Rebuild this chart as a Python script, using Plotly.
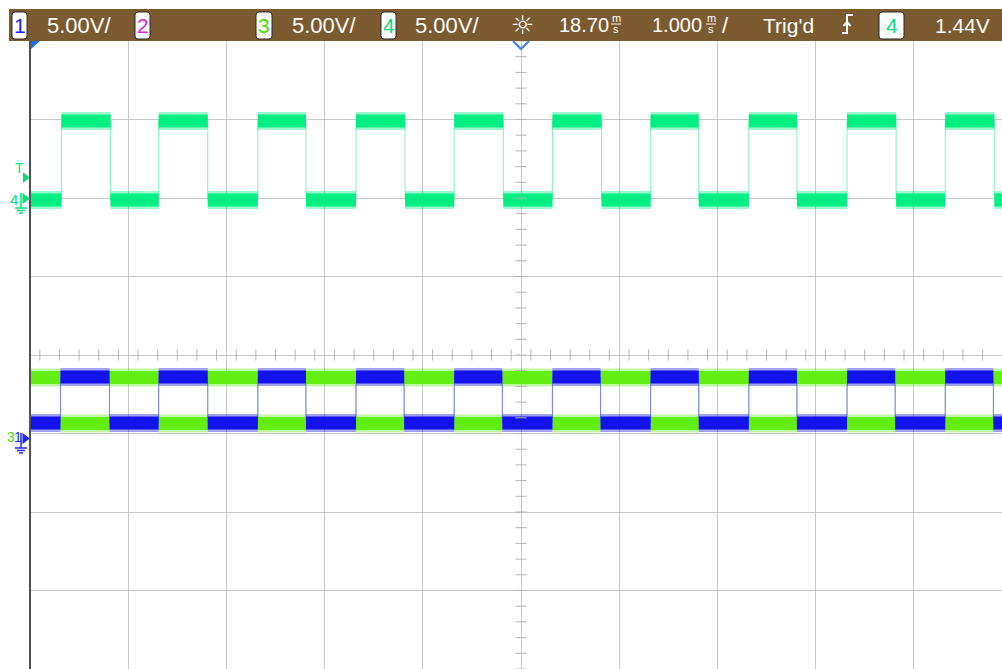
import numpy as np
import plotly.graph_objects as go

t_start, t_end = 13.70, 23.598          # ms, visible window (centre 18.70 ms, 1 ms/div)
t_center = 18.70
volts_per_div = 5.0

# channel 4 (spring green) edges, ms
ch4_rise = [14.02, 15.01, 16.02, 17.02, 18.02, 19.02, 20.02, 21.02, 22.02, 23.02]
ch4_fall = [14.52, 15.51, 16.51, 17.52, 18.52, 19.52, 20.51, 21.51, 22.52, 23.52]
ch4_low, ch4_high = -0.12, 4.90          # V
ch4_offset_div = 2.0

# channel 1 (blue) edges, ms
ch1_rise = [14.01, 15.01, 16.02, 17.02, 18.02, 19.02, 20.02, 21.02, 22.02, 23.02]
ch1_fall = [14.51, 15.51, 16.51, 17.51, 18.51, 19.51, 20.51, 21.51, 22.51, 23.51]
ch1_low, ch1_high = 0.67, 3.60
ch1_offset_div = -1.0

# channel 3 (lime) - complementary
ch3_fall = [14.01, 15.01, 16.02, 17.02, 18.02, 19.02, 20.02, 21.02, 22.02, 23.02]
ch3_rise = [14.51, 15.51, 16.51, 17.51, 18.51, 19.51, 20.51, 21.51, 22.51, 23.51]
ch3_low, ch3_high = 0.64, 3.57
ch3_offset_div = -1.0

# ---------------- layout geometry ----------------
W, H = 1002, 669
L, T = 30, 41
PW, PH = W - L, H - T


def PX(x):
    return (x - L) / PW


def PY(y):
    return (H - y) / PH


def to_div(v, off):
    return v / volts_per_div + off


def steps(first_edges, second_edges, start_level, other_level):
    xs, ys = [t_start], [start_level]
    for a, b in zip(first_edges, second_edges):
        xs += [a, b]
        ys += [other_level, start_level]
    xs.append(t_end)
    ys.append(start_level)
    return xs, ys


def bands(xs, ys, half):
    bx, by = [], []
    for i in range(len(xs) - 1):
        x0, x1, lv = xs[i], xs[i + 1], ys[i]
        bx += [x0, x1, x1, x0, x0, None]
        by += [lv - half, lv - half, lv + half, lv + half, lv - half, None]
    return bx, by


fig = go.Figure()

half_core = 6.5 / 78.5
half_fuzz = 9.0 / 78.5

channels = [
    ("ch3", steps(ch3_fall, ch3_rise, to_div(ch3_high, ch3_offset_div), to_div(ch3_low, ch3_offset_div)),
     "#62ee10", "#a0f080"),
    ("ch1", steps(ch1_rise, ch1_fall, to_div(ch1_low, ch1_offset_div), to_div(ch1_high, ch1_offset_div)),
     "#1212ee", "#7a7aff"),
    ("ch4", steps(ch4_rise, ch4_fall, to_div(ch4_low, ch4_offset_div), to_div(ch4_high, ch4_offset_div)),
     "#00ee82", "#80f5bb"),
]

for name, (xs, ys), col, ecol in channels:
    fig.add_trace(go.Scatter(x=xs, y=ys, mode="lines", line=dict(color=ecol, width=1, shape="hv"),
                             hoverinfo="skip", showlegend=False))
for name, (xs, ys), col, ecol in channels:
    fx, fy = bands(xs, ys, half_fuzz)
    fig.add_trace(go.Scatter(x=fx, y=fy, mode="lines", fill="toself", fillcolor=col, opacity=0.4,
                             line=dict(width=0), hoverinfo="skip", showlegend=False))
    bx, by = bands(xs, ys, half_core)
    fig.add_trace(go.Scatter(x=bx, y=by, mode="lines", fill="toself", fillcolor=col,
                             line=dict(width=0), hoverinfo="skip", showlegend=False))

# centre-axis minor ticks (graticule decoration)
hx = np.arange(t_start + 0.1, t_end + 1e-9, 0.2)
vy = np.arange(-4, 4 + 1e-9, 0.2)
fig.add_trace(go.Scatter(x=hx, y=[0] * len(hx), mode="markers",
                         marker=dict(symbol="line-ns", size=8, line=dict(color="#b4b4b4", width=1)),
                         hoverinfo="skip", showlegend=False))
fig.add_trace(go.Scatter(x=[t_center] * len(vy), y=vy, mode="markers",
                         marker=dict(symbol="line-ew", size=8, line=dict(color="#b4b4b4", width=1)),
                         hoverinfo="skip", showlegend=False))

shapes = []
annotations = []


def ann(x, y, text, size, color, xanchor="left", family="Liberation Sans"):
    annotations.append(dict(x=PX(x), y=PY(y), xref="paper", yref="paper", text=text, showarrow=False,
                            xanchor=xanchor, yanchor="middle", font=dict(size=size, color=color, family=family)))


def pshape(path, **kw):
    d = dict(type="path", xref="paper", yref="paper", path=path, layer="above")
    d.update(kw)
    shapes.append(d)


# header bar
shapes.append(dict(type="rect", xref="paper", yref="paper", x0=PX(9), x1=PX(1003), y0=PY(41), y1=PY(9),
                   fillcolor="#7b5a30", line=dict(width=0), layer="above"))


def rrect(x0, y0, x1, y1, r=3):
    return (f"M {PX(x0 + r)} {PY(y0)} L {PX(x1 - r)} {PY(y0)} Q {PX(x1)} {PY(y0)} {PX(x1)} {PY(y0 + r)} "
            f"L {PX(x1)} {PY(y1 - r)} Q {PX(x1)} {PY(y1)} {PX(x1 - r)} {PY(y1)} "
            f"L {PX(x0 + r)} {PY(y1)} Q {PX(x0)} {PY(y1)} {PX(x0)} {PY(y1 - r)} "
            f"L {PX(x0)} {PY(y0 + r)} Q {PX(x0)} {PY(y0)} {PX(x0 + r)} {PY(y0)} Z")


boxes = [(12, 27, "1", "#2222ff"), (135, 150, "2", "#e020e0"), (256, 272, "3", "#44e000"),
         (381, 396, "4", "#00e07a"), (879, 904, "4", "#00e07a")]
for x0, x1, lab, c in boxes:
    pshape(rrect(x0, 12, x1, 39), fillcolor="white", line=dict(color="#2a2a2a", width=1))
    ann((x0 + x1) / 2, 25.5, lab, 21, c, xanchor="center")

hdr_txt = [(45, "5.00V/", 22), (290, "5.00V/", 22), (413, "5.00V/", 22), (557, "18.70", 20),
           (650, "1.000", 20), (720, "/", 22), (761, "Trig'd", 21), (933, "1.44V", 21)]
for x, s, fs in hdr_txt:
    ann(x, 25.5, s, fs, "white")
for xc in (616, 711):
    ann(xc, 18.5, "m", 11, "white", xanchor="center")
    ann(xc, 29.5, "s", 11, "white", xanchor="center")
    shapes.append(dict(type="line", xref="paper", yref="paper", x0=PX(xc - 5), x1=PX(xc + 5),
                       y0=PY(24), y1=PY(24), line=dict(color="white", width=1), layer="above"))
ann(522, 25, "☼", 26, "white", xanchor="center", family="DejaVu Sans")
# trigger edge symbol
pshape(f"M {PX(842)} {PY(33)} L {PX(847)} {PY(33)} L {PX(847)} {PY(15)} L {PX(853)} {PY(15)}",
       line=dict(color="white", width=2))
pshape(f"M {PX(843.5)} {PY(26)} L {PX(847)} {PY(22)} L {PX(850.5)} {PY(26)}",
       line=dict(color="white", width=2))

# left border line
shapes.append(dict(type="line", xref="paper", yref="paper", x0=PX(30), x1=PX(30), y0=0, y1=1,
                   line=dict(color="#505050", width=2), layer="above"))
# top-left trigger-off-screen marker and centre delay marker
pshape(f"M {PX(31)} {PY(41)} L {PX(40)} {PY(41)} L {PX(31)} {PY(49)} Z",
       fillcolor="#1e6fe0", line=dict(width=0))
pshape(f"M {PX(513)} {PY(41)} L {PX(521)} {PY(49)} L {PX(529)} {PY(41)}",
       line=dict(color="#3b82e6", width=2))

# left channel markers
G4 = "#00e07a"
ann(19.5, 168, "T", 14, G4, xanchor="center")
pshape(f"M {PX(23)} {PY(172)} L {PX(29.5)} {PY(177.5)} L {PX(23)} {PY(183)} Z",
       fillcolor=G4, line=dict(width=0))
ann(14, 199, "4", 15, G4, xanchor="center")
pshape(f"M {PX(22.5)} {PY(193)} L {PX(30)} {PY(198.5)} L {PX(22.5)} {PY(204)} Z",
       fillcolor=G4, line=dict(width=0))
pshape((f"M {PX(21)} {PY(193)} L {PX(21)} {PY(208)} M {PX(15)} {PY(208)} L {PX(27)} {PY(208)} "
        f"M {PX(17)} {PY(210.5)} L {PX(25)} {PY(210.5)} M {PX(19)} {PY(213)} L {PX(23)} {PY(213)}"),
       line=dict(color=G4, width=1.5))

ann(10.5, 437, "3", 14, "#55e000", xanchor="center")
ann(17.5, 437, "1", 14, "#2222ff", xanchor="center")
pshape(f"M {PX(22.5)} {PY(433)} L {PX(30)} {PY(438.5)} L {PX(22.5)} {PY(444)} Z",
       fillcolor="#2222ff", line=dict(width=0))
pshape((f"M {PX(21)} {PY(433)} L {PX(21)} {PY(448)} M {PX(15)} {PY(448)} L {PX(27)} {PY(448)} "
        f"M {PX(17)} {PY(450.5)} L {PX(25)} {PY(450.5)} M {PX(19)} {PY(453)} L {PX(23)} {PY(453)}"),
       line=dict(color="#2222ff", width=1.5))

fig.update_layout(
    width=W, height=H,
    margin=dict(l=L, r=0, t=T, b=0),
    paper_bgcolor="white", plot_bgcolor="white",
    showlegend=False,
    xaxis=dict(range=[t_start, t_end], tick0=t_start, dtick=1, showgrid=True, gridcolor="#c8c8c8",
               gridwidth=1, zeroline=False, showticklabels=False, ticks="", showline=False),
    yaxis=dict(range=[-4, 4], tick0=-4, dtick=1, showgrid=True, gridcolor="#c8c8c8", gridwidth=1,
               zeroline=False, showticklabels=False, ticks="", showline=False),
    shapes=shapes, annotations=annotations,
)

fig.write_html("out.html", config={"displayModeBar": False},
               post_script="document.body.style.margin='0';")
